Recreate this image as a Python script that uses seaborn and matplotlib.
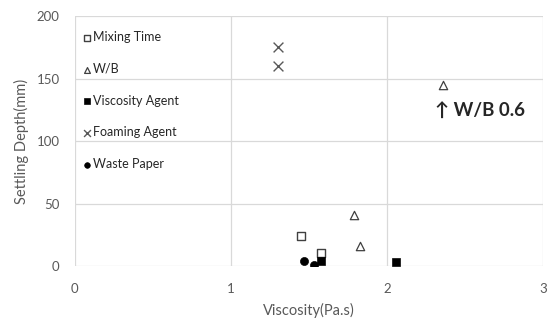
import pandas as pd
import numpy as np
import seaborn as sns
import matplotlib.pyplot as plt

# values
mix_x = [1.45, 1.58]
mix_y = [24, 10]
wb_x = [1.79, 1.83, 2.36]
wb_y = [41, 16, 145]
visc_x = [1.58, 2.06]
visc_y = [4, 3]
foam_x = [1.30, 1.30]
foam_y = [175, 160]
paper_x = [1.47, 1.53]
paper_y = [4, 1]

series = ["Mixing Time", "W/B", "Viscosity Agent", "Foaming Agent", "Waste Paper"]
xs = [mix_x, wb_x, visc_x, foam_x, paper_x]
ys = [mix_y, wb_y, visc_y, foam_y, paper_y]

rows = []
for name, sx, sy in zip(series, xs, ys):
    for a, b in zip(sx, sy):
        rows.append({"Viscosity": a, "Depth": b, "Group": name})
data = pd.DataFrame(rows)

sns.set_style("white")
plt.rcParams['font.family'] = ['Lato', 'DejaVu Sans']

fig, ax = plt.subplots(figsize=(5.54, 3.22), dpi=100)
fig.subplots_adjust(left=0.135, right=0.980, top=0.950, bottom=0.174)

styles = {
    "Mixing Time": dict(marker="s", s=30, facecolor="white", edgecolor="#404040", linewidth=1.0),
    "W/B": dict(marker="^", s=36, facecolor="white", edgecolor="#404040", linewidth=0.9),
    "Viscosity Agent": dict(marker="s", s=34, color="black", edgecolor="black"),
    "Foaming Agent": dict(marker="x", s=50, color="#595959", linewidth=1.0),
    "Waste Paper": dict(marker="o", s=34, color="black", edgecolor="black"),
}

for name in series:
    sub = data[data["Group"] == name]
    sns.scatterplot(data=sub, x="Viscosity", y="Depth", ax=ax, label=name,
                    zorder=3, **styles[name])

ax.set_xlim(0, 3)
ax.set_ylim(0, 200)
ax.set_xticks([0, 1, 2, 3])
ax.set_yticks([0, 50, 100, 150, 200])
ax.grid(True, color="#d9d9d9", linewidth=0.9)
ax.set_axisbelow(True)
for sp in ax.spines.values():
    sp.set_visible(False)
ax.tick_params(colors="#595959", labelsize=9.5, length=0)
ax.tick_params(axis="x", pad=12)
ax.tick_params(axis="y", pad=11)
for t in ax.get_xticklabels() + ax.get_yticklabels():
    t.set_color("#595959")
ax.set_xlabel("Viscosity(Pa.s)", fontsize=10.5, color="#595959", labelpad=6)
ax.set_ylabel("Settling Depth(mm)", fontsize=10.5, color="#595959", labelpad=5)

ax.text(2.31, 124, "↑ W/B 0.6", fontsize=13.5, fontweight="bold", color="#262626",
        va="center", ha="left", family=['Lato', 'DejaVu Sans'])

ax.legend(loc="upper left", bbox_to_anchor=(0.0, 0.97), frameon=False,
          fontsize=9, labelspacing=1.58, handletextpad=0.05, handlelength=0.8,
          borderaxespad=0.2, labelcolor="#262626", markerscale=0.7)

plt.savefig("out.png", dpi=100)
